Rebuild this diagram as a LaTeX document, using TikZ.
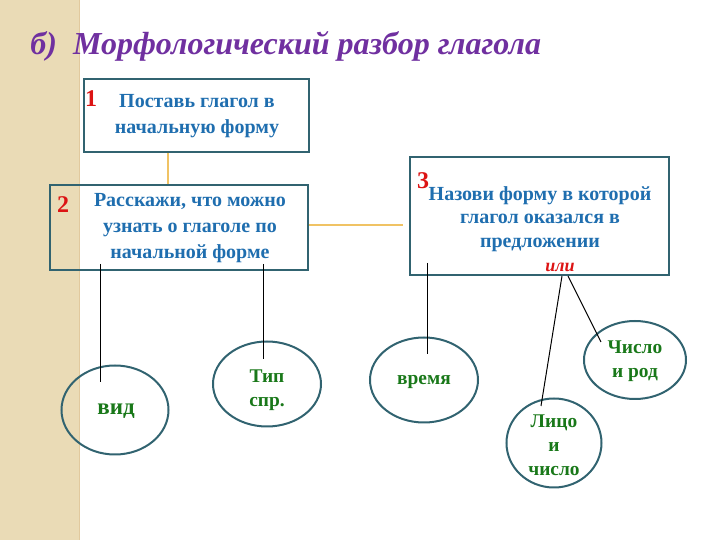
\documentclass[tikz,border=0pt]{standalone}
\usepackage{fontspec}
\setmainfont{Liberation Serif}
\usetikzlibrary{shapes.geometric}
\definecolor{boxline}{RGB}{49,99,112}
\definecolor{bluetext}{RGB}{31,110,175}
\definecolor{greentext}{RGB}{25,120,25}
\definecolor{redtext}{RGB}{220,20,20}
\definecolor{titlepurple}{RGB}{112,48,160}
\definecolor{goldline}{RGB}{240,195,100}
\definecolor{stripe}{RGB}{234,219,182}
\begin{document}
\begin{tikzpicture}[x=0.5pt,y=-0.5pt,
  box/.style={draw=boxline,line width=1pt,inner sep=0pt},
  boxtext/.style={text=bluetext,font=\bfseries\fontsize{10}{12.8}\selectfont,align=center},
  num/.style={text=redtext,font=\bfseries\fontsize{12}{13}\selectfont},
  oval/.style={ellipse,draw=boxline,line width=1pt,inner sep=0pt},
  ovaltext/.style={text=greentext,font=\bfseries\fontsize{9.7}{12}\selectfont,align=center},
  stick/.style={draw=black,line width=0.5pt},
  goldlink/.style={draw=goldline,line width=0.8pt}]
\useasboundingbox(0,0)rectangle(720,540);
\fill[stripe](0,0)rectangle(80,540);
\draw[stripe!80!brown,line width=0.5pt](80,0)--(80,540);
% title
\node[anchor=base west,inner sep=0pt,text=titlepurple,font=\bfseries\itshape\fontsize{16}{18}\selectfont](title)at(30,55){б)\ \ Морфологический разбор глагола};
% steps
\node[box,minimum width=112.5pt,minimum height=36.5pt](box1)at(196.5,115.5){};
\node[boxtext](t1)at(197,116){Поставь глагол в\\начальную форму};
\node[num](n1)at(91,99){1};
\node[box,minimum width=129pt,minimum height=42.5pt](box2)at(179,227.5){};
\node[boxtext](t2)at(190,228){Расскажи, что можно\\узнать о глаголе по\\начальной форме};
\node[num](n2)at(63,205){2};
\node[box,minimum width=129.5pt,minimum height=59pt](box3)at(539.5,216){};
\node[boxtext,font=\bfseries\fontsize{10}{11.6}\selectfont](t3)at(540,219){Назови форму в которой\\глагол оказался в\\предложении};
\node[num](n3)at(423,181){3};
\node[text=redtext,font=\bfseries\itshape\fontsize{9}{10}\selectfont](ili)at(560,267){или};
\draw[goldlink](box1.south-|168,0)--(box2.north-|168,0);
\draw[goldlink](box2.east|-0,225)--(403,225);
% features
\node[oval,minimum width=53.5pt,minimum height=44.5pt](vid)at(115,410){};
\node[ovaltext,font=\bfseries\fontsize{11.5}{12}\selectfont]at(116,411){вид};
\node[oval,minimum width=54pt,minimum height=42.5pt](tip)at(267,384){};
\node[ovaltext]at(267,390){Тип\\спр.};
\node[oval,minimum width=54pt,minimum height=42.5pt](vremya)at(424,380){};
\node[ovaltext]at(424,382){время};
\node[oval,minimum width=47.5pt,minimum height=44.5pt](litso)at(554,443){};
\node[ovaltext]at(554,445){Лицо\\и\\число};
\node[oval,minimum width=51pt,minimum height=39pt](chislo)at(635,360){};
\node[ovaltext]at(635,361){Число\\и род};
\draw[stick](101,264)--(101,382);
\draw[stick](264,264)--(264,359);
\draw[stick](428,263)--(428,354);
\draw[stick](562,276)--(541,406);
\draw[stick](568,276)--(601,342);
\end{tikzpicture}
\end{document}
